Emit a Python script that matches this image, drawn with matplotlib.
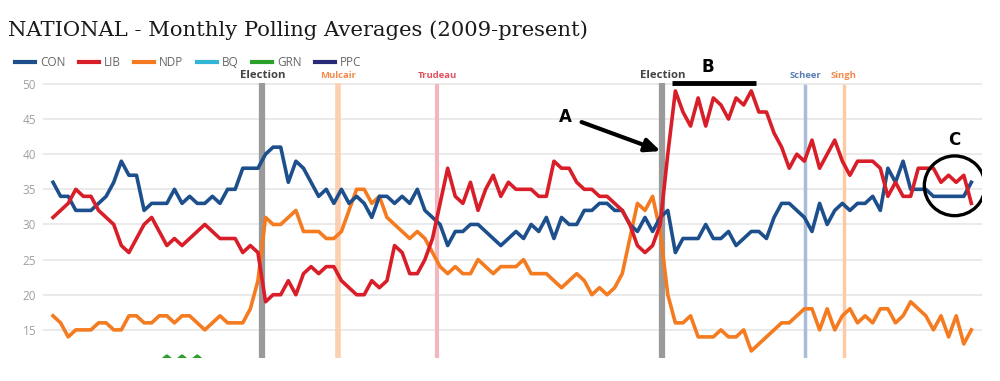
import matplotlib.pyplot as plt
from matplotlib.lines import Line2D
from matplotlib.patches import Ellipse

# monthly polling averages, one value per month from early 2009
months = list(range(122))

con = [36, 34, 34, 32, 32, 32, 33, 34, 36, 39,
       37, 37, 32, 33, 33, 33, 35, 33, 34, 33,
       33, 34, 33, 35, 35, 38, 38, 38, 40, 41,
       41, 36, 39, 38, 36, 34, 35, 33, 35, 33,
       34, 33, 31, 34, 34, 33, 34, 33, 35, 32,
       31, 30, 27, 29, 29, 30, 30, 29, 28, 27,
       28, 29, 28, 30, 29, 31, 28, 31, 30, 30,
       32, 32, 33, 33, 32, 32, 30, 29, 31, 29,
       31, 32, 26, 28, 28, 28, 30, 28, 28, 29,
       27, 28, 29, 29, 28, 31, 33, 33, 32, 31,
       29, 33, 30, 32, 33, 32, 33, 33, 34, 32,
       38, 36, 39, 35, 35, 35, 34, 34, 34, 34,
       34, 36]

lib = [31, 32, 33, 35, 34, 34, 32, 31, 30, 27,
       26, 28, 30, 31, 29, 27, 28, 27, 28, 29,
       30, 29, 28, 28, 28, 26, 27, 26, 19, 20,
       20, 22, 20, 23, 24, 23, 24, 24, 22, 21,
       20, 20, 22, 21, 22, 27, 26, 23, 23, 25,
       28, 33, 38, 34, 33, 36, 32, 35, 37, 34,
       36, 35, 35, 35, 34, 34, 39, 38, 38, 36,
       35, 35, 34, 34, 33, 32, 30, 27, 26, 27,
       30, 40, 49, 46, 44, 48, 44, 48, 47, 45,
       48, 47, 49, 46, 46, 43, 41, 38, 40, 39,
       42, 38, 40, 42, 39, 37, 39, 39, 39, 38,
       34, 36, 34, 34, 38, 38, 38, 36, 37, 36,
       37, 33]

ndp = [17, 16, 14, 15, 15, 15, 16, 16, 15, 15,
       17, 17, 16, 16, 17, 17, 16, 17, 17, 16,
       15, 16, 17, 16, 16, 16, 18, 22, 31, 30,
       30, 31, 32, 29, 29, 29, 28, 28, 29, 32,
       35, 35, 33, 34, 31, 30, 29, 28, 29, 28,
       26, 24, 23, 24, 23, 23, 25, 24, 23, 24,
       24, 24, 25, 23, 23, 23, 22, 21, 22, 23,
       22, 20, 21, 20, 21, 23, 28, 33, 32, 34,
       29, 20, 16, 16, 17, 14, 14, 14, 15, 14,
       14, 15, 12, 13, 14, 15, 16, 16, 17, 18,
       18, 15, 18, 15, 17, 18, 16, 17, 16, 18,
       18, 16, 17, 19, 18, 17, 15, 17, 14, 17,
       13, 15]

# only the tips of the green line peek above the bottom of the chart
grn_months = [14, 15, 16, 17, 18, 19, 20]
grn = [10.4, 11.3, 10.4, 11.3, 10.4, 11.3, 10.4]

parties = ["CON", "LIB", "NDP", "BQ", "GRN", "PPC"]
events = ["Election", "Mulcair", "Trudeau", "Election", "Scheer", "Singh"]
event_months = [27.6, 37.5, 50.6, 80.3, 99.1, 104.2]
yticks = [15, 20, 25, 30, 35, 40, 45, 50]

party_colors = {"CON": "#1d4f8c", "LIB": "#d81e28", "NDP": "#f47b20",
                "BQ": "#33b5d8", "GRN": "#2ca02c", "PPC": "#262a78"}
bar_colors = ["#9a9a9a", "#fbcfb0", "#f2b6bd", "#9a9a9a", "#a9bcd8", "#fbcaa6"]
label_colors = ["#444444", "#f5894a", "#e0525e", "#444444", "#5a7db3", "#f5894a"]
bar_widths = [4.5, 4.0, 3.0, 4.5, 2.5, 2.5]

plt.rcParams['font.family'] = ['Open Sans', 'DejaVu Sans']

fig = plt.figure(figsize=(10, 3.81), dpi=100)
ax = fig.add_axes([0.043, 0.0604, 0.939, 0.722])

for k in yticks:
    ax.axhline(k, color="#e6e6e6", lw=1.2, zorder=0)

for pos, c, w in zip(event_months, bar_colors, bar_widths):
    ax.axvline(pos, ymin=0, ymax=0.99, color=c, lw=w, zorder=1)

for name, pos, c in zip(events, event_months, label_colors):
    big = name == "Election"
    ax.text(pos, 51.2, name, ha="center", va="center", color=c,
            fontsize=8.2 if big else 6.8, fontweight="bold", clip_on=False)

ax.plot(grn_months, grn, color=party_colors["GRN"], lw=2.2, zorder=2)
ax.plot(months, ndp, color=party_colors["NDP"], lw=2.6, solid_joinstyle="round", zorder=3)
ax.plot(months, con, color=party_colors["CON"], lw=2.6, solid_joinstyle="round", zorder=3)
ax.plot(months, lib, color=party_colors["LIB"], lw=2.6, solid_joinstyle="round", zorder=4)

ax.set_xlim(-1.32, 122.4)
ax.set_ylim(11, 50.14)
ax.set_yticks(yticks)
ax.set_xticks([])
ax.tick_params(axis="y", length=0, pad=5, labelsize=8.5, labelcolor="#a0a0a0")
for s in ax.spines.values():
    s.set_visible(False)

# annotations A, B, C
ax.text(67.5, 45.3, "A", fontsize=12, fontweight="bold", ha="center", va="center",
        family="DejaVu Sans", clip_on=False)
ax.annotate("", xy=(80.4, 40.3), xytext=(69.3, 44.7),
            arrowprops=dict(arrowstyle="-|>,head_length=0.9,head_width=0.4",
                            color="black", lw=3))
ax.text(86.3, 52.4, "B", fontsize=12, fontweight="bold", ha="center", va="center",
        family="DejaVu Sans", clip_on=False)
ax.plot([81.6, 92.6], [50.1, 50.1], color="black", lw=3.5, solid_capstyle="butt",
        clip_on=False, zorder=5)
ax.text(118.7, 42.0, "C", fontsize=12, fontweight="bold", ha="center", va="center",
        family="DejaVu Sans")
ax.add_patch(Ellipse((118.8, 35.5), 8.0, 8.5, fill=False, lw=2.4, color="black", zorder=6))

fig.text(0.008, 0.921, "NATIONAL - Monthly Polling Averages (2009-present)",
         family="DejaVu Serif", fontsize=15.2, color="#1a1a1a", va="center")

handles = [Line2D([], [], color=party_colors[p], lw=3) for p in parties]
fig.legend(handles, parties, loc="center left", bbox_to_anchor=(0.015, 0.835),
           ncol=6, frameon=False, fontsize=8.5, handlelength=1.7, handletextpad=0.45,
           columnspacing=1.1, labelcolor="#666666", borderpad=0, borderaxespad=0)

fig.savefig("out.png", dpi=100)
